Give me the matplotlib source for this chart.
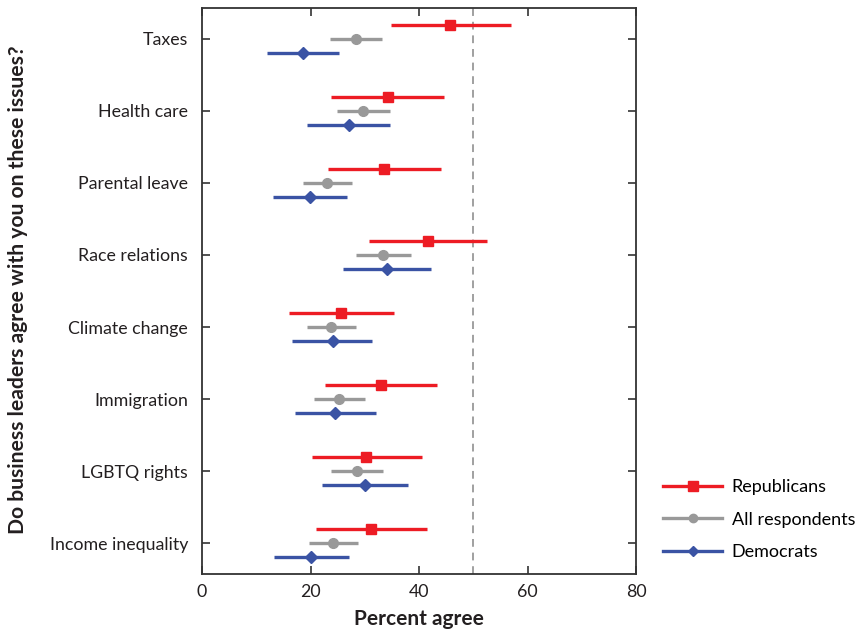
import matplotlib
matplotlib.use("Agg")
import matplotlib.pyplot as plt
import numpy as np

# 每个议题的数值（百分比）
issues = ["Taxes", "Health care", "Parental leave", "Race relations",
          "Climate change", "Immigration", "LGBTQ rights", "Income inequality"]

rep_mid = [45.8, 34.2, 33.6, 41.6, 25.7, 33.0, 30.3, 31.2]
rep_lo = [34.8, 23.7, 23.3, 30.8, 16.0, 22.6, 20.2, 21.0]
rep_hi = [56.9, 44.7, 44.0, 52.5, 35.4, 43.4, 40.5, 41.5]

all_mid = [28.4, 29.6, 23.1, 33.4, 23.8, 25.3, 28.5, 24.2]
all_lo = [23.6, 24.8, 18.6, 28.4, 19.3, 20.6, 23.7, 19.7]
all_hi = [33.2, 34.6, 27.6, 38.5, 28.4, 30.0, 33.4, 28.8]

dem_mid = [18.7, 27.1, 19.9, 34.1, 24.1, 24.6, 30.0, 20.1]
dem_lo = [12.0, 19.4, 13.0, 25.9, 16.6, 17.2, 22.2, 13.2]
dem_hi = [25.3, 34.7, 26.8, 42.3, 31.4, 32.1, 38.0, 27.1]

plt.rcParams['font.family'] = ['Lato', 'DejaVu Sans']

fig = plt.figure(figsize=(8.58, 6.29), dpi=100)
ax = fig.add_axes([202 / 858, 1 - 574 / 629, 434 / 858, 566 / 629])

y = np.arange(len(issues))
series = [
    ("Republicans", rep_mid, rep_lo, rep_hi, "#ed1c24", "s", 7.5, -0.2),
    ("All respondents", all_mid, all_lo, all_hi, "#999999", "o", 7, 0.0),
    ("Democrats", dem_mid, dem_lo, dem_hi, "#3a53a4", "D", 6.5, 0.19),
]

ax.axvline(50, color="#a0a0a0", lw=1.4, ls=(0, (4, 3)), zorder=1)

for name, mid, lo, hi, c, m, ms, off in series:
    mid = np.array(mid)
    err = [mid - np.array(lo), np.array(hi) - mid]
    ax.errorbar(mid, y + off, xerr=err, fmt=m, color=c, ecolor=c,
                elinewidth=2.4, capsize=0, ms=ms, mec=c, zorder=3)
    # 图例用的线条
    ax.plot([], [], color=c, lw=2.4, marker=m, ms=ms - 1, label=name)

ax.set_xlim(0, 80)
ax.set_ylim(len(issues) - 0.57, -0.43)
ax.set_yticks(y)
ax.set_yticklabels(issues)
ax.set_xticks([0, 20, 40, 60, 80])
ax.tick_params(axis='both', direction='in', length=6, width=1.2, labelsize=12.8,
               top=True, right=True, color="#333333", labelcolor="#231f20")
ax.tick_params(axis='y', pad=10)
ax.tick_params(axis='x', pad=7)
for s in ax.spines.values():
    s.set_linewidth(1.3)
    s.set_color("#333333")

ax.set_xlabel("Percent agree", fontsize=15, fontweight='bold', color="#231f20", labelpad=7)
fig.text(18 / 858, 1 - 290 / 629, "Do business leaders agree with you on these issues?",
         rotation=90, ha='center', va='center', fontsize=15.2, fontweight='bold', color="#231f20")

ax.legend(loc='center left', bbox_to_anchor=(1.062, 0.096),
          frameon=False, fontsize=13, handlelength=3.3, handletextpad=0.5,
          labelspacing=0.9, borderaxespad=0, borderpad=0)

fig.savefig("out.png", dpi=100)
